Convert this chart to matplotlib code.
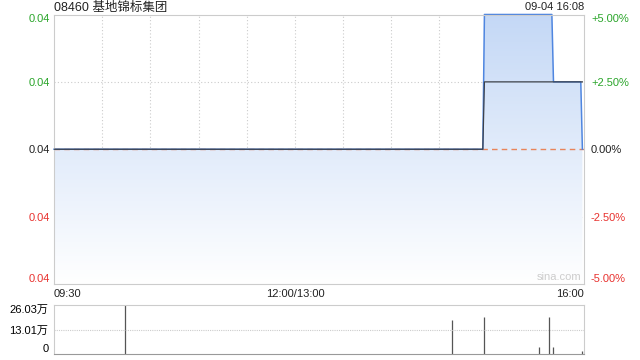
import numpy as np
import matplotlib
matplotlib.use("Agg")
import matplotlib.pyplot as plt
from matplotlib.colors import LinearSegmentedColormap

plt.rcParams['font.family'] = ['Liberation Sans', 'Noto Sans CJK SC', 'DejaVu Sans']

# ---- data ----
title = "08460 基地锦标集团"
stamp = "09-04 16:08"
prev_close = 0.040
price_times = [0, 267, 268, 310, 311, 328, 329]
price_vals = [0.040, 0.040, 0.042, 0.042, 0.041, 0.041, 0.040]
avg_times = [0, 267, 268, 329]
avg_vals = [0.040, 0.040, 0.041, 0.041]
vol_times = [44, 248, 268, 302, 308, 311, 329]
vol_vals = [26.03, 18.1, 19.7, 3.9, 19.7, 3.7, 1.7]   # 万
price_ticks = [0.038, 0.039, 0.040, 0.041, 0.042]
pct_labels = ["-5.00%", "-2.50%", "0.00%", "+2.50%", "+5.00%"]
tick_colors = ['#e8322f', '#e8322f', '#222222', '#2aa52a', '#2aa52a']
x_labels = ["09:30", "12:00/13:00", "16:00"]
x_label_pos = [0, 150, 330]
vol_ticks = [0, 13.01, 26.03]
vol_labels = ["0", "13.01万", "26.03万"]
total_minutes = 330

W, H = 640, 360
fig = plt.figure(figsize=(6.4, 3.6), dpi=100)

def ax_rect(x0, y0, x1, y1):
    return [x0 / W, 1 - y1 / H, (x1 - x0) / W, (y1 - y0) / H]

ax = fig.add_axes(ax_rect(54, 14.5, 584, 284))
ymin, ymax = price_ticks[0], price_ticks[-1]
ax.set_xlim(0, total_minutes)
ax.set_ylim(ymin, ymax)

# grid
for m in range(30, total_minutes, 30):
    ax.axvline(m, color='#cccccc', lw=0.8, ls=(0, (1, 2)), zorder=0.5)
for v in price_ticks[1:-1]:
    ax.axhline(v, color='#cccccc', lw=0.8, ls=(0, (1, 2)), zorder=0.5)

# gradient fill under price
poly = ax.fill_between(price_times, price_vals, ymin, facecolor='none', edgecolor='none')
cmap = LinearSegmentedColormap.from_list('g', ['#ffffff', '#c4d8f6'])
grad = np.linspace(0, 1, 256).reshape(-1, 1)
img = ax.imshow(grad, extent=[0, total_minutes, ymin, ymax], aspect='auto',
                origin='lower', cmap=cmap, zorder=1, interpolation='bicubic')
img.set_clip_path(poly.get_paths()[0], transform=ax.transData)

ax.axhline(prev_close, color='#e8845a', lw=1.0, ls=(0, (4, 3)), zorder=1.5)
ax.plot(price_times, price_vals, color='#4f86e0', lw=1.1, zorder=2, clip_on=False)
ax.plot(avg_times, avg_vals, color='#3c4048', lw=0.9, zorder=3)

for s in ax.spines.values():
    s.set_color('#cccccc')
    s.set_linewidth(0.8)
ax.set_xticks([])
ax.set_yticks(price_ticks)
ax.set_yticklabels(["%.2f" % v for v in price_ticks], fontsize=8)
ax.tick_params(axis='y', length=0, pad=3)
for lbl, c in zip(ax.get_yticklabels(), tick_colors):
    lbl.set_color(c)
labs = ax.get_yticklabels()
labs[-1].set_va('top'); labs[0].set_va('bottom')

ax2 = ax.twinx()
ax2.set_ylim(ymin, ymax)
ax2.set_yticks(price_ticks)
ax2.set_yticklabels(pct_labels, fontsize=8)
ax2.tick_params(axis='y', length=0, pad=5)
for lbl, c in zip(ax2.get_yticklabels(), tick_colors):
    lbl.set_color(c)
labs2 = ax2.get_yticklabels()
labs2[-1].set_va('top'); labs2[0].set_va('bottom')
for s in ax2.spines.values():
    s.set_visible(False)

ax.text(0.99 * total_minutes - 12, ymin + 0.00003, "sina.com", color='#cccccc',
        fontsize=8, ha='center', va='bottom', zorder=4)

fig.text(54 / W, 1 - 7.5 / H, title, fontsize=9, ha='left', va='center', color='#222222')
fig.text(584 / W, 1 - 7.5 / H, stamp, fontsize=8, ha='right', va='center', color='#222222')

for lab, pos in zip(x_labels, x_label_pos):
    ha = 'left' if pos == 0 else ('right' if pos == total_minutes else 'center')
    fig.text((54 + pos / total_minutes * 530) / W, 1 - 294 / H, lab, fontsize=8,
             ha=ha, va='center', color='#222222')

# volume
axv = fig.add_axes(ax_rect(54, 305, 584, 354.3))
axv.set_xlim(0, total_minutes)
axv.set_ylim(0, vol_ticks[-1])
axv.vlines(vol_times, 0, vol_vals, color='#555555', lw=0.9)
axv.axhline(vol_ticks[1], color='#cccccc', lw=0.8, ls=(0, (1, 1)))
axv.set_xticks([])
axv.set_yticks(vol_ticks)
axv.set_yticklabels(vol_labels, fontsize=8)
axv.tick_params(axis='y', length=0, pad=4)
vl = axv.get_yticklabels()
vl[0].set_va('bottom'); vl[-1].set_va('top')
for k in ['left', 'right']:
    axv.spines[k].set_color('#cccccc'); axv.spines[k].set_linewidth(0.8)
axv.spines['top'].set_color('#cccccc'); axv.spines['top'].set_linestyle((0, (1, 1)))
axv.spines['bottom'].set_color('#999999'); axv.spines['bottom'].set_linestyle((0, (1, 1)))

fig.savefig("out.png", dpi=100)
